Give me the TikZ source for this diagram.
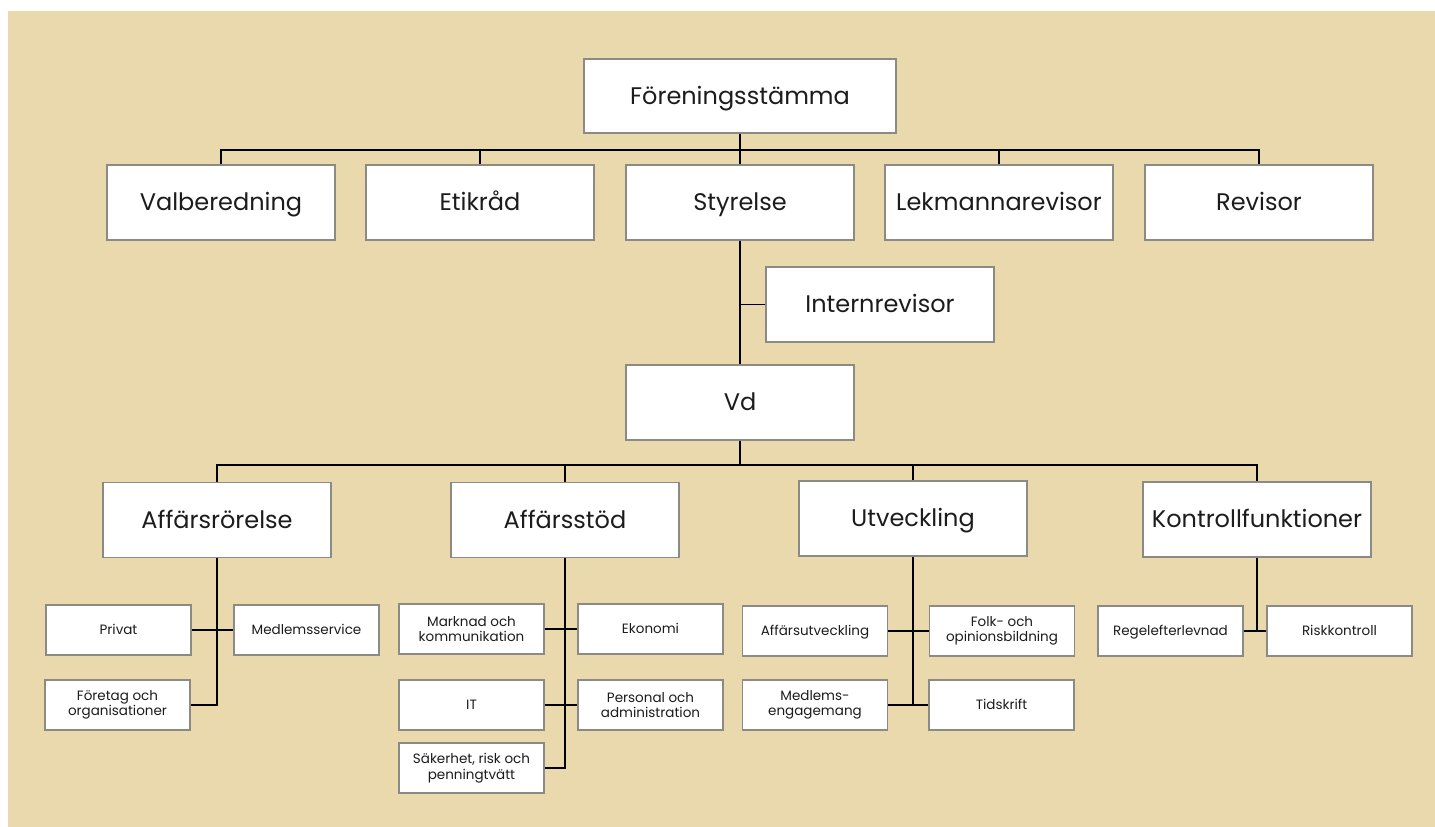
\documentclass[tikz,border=0pt]{standalone}
\usepackage{fontspec}
\setmainfont{Poppins}
\definecolor{bgbeige}{RGB}{233,217,173}
\definecolor{boxedge}{RGB}{140,138,132}
\definecolor{txt}{RGB}{28,28,28}
\begin{document}
\begin{tikzpicture}[x=1pt,y=-1pt,
  bigbox/.style={draw=boxedge,line width=1.4pt,fill=white,minimum width=228pt,minimum height=75pt,inner sep=0pt,text=txt,font=\fontsize{24}{28}\selectfont,text height=19pt,text depth=3pt},
  smallbox/.style={draw=boxedge,line width=1.4pt,fill=white,minimum width=145pt,minimum height=50pt,inner sep=0pt,text=txt,font=\fontsize{13.5}{15.5}\selectfont,text height=11pt,text depth=2pt},
  smallbox2/.style={draw=boxedge,line width=1.4pt,fill=white,minimum width=145pt,minimum height=50pt,inner sep=0pt,text=txt,font=\fontsize{13.5}{15.5}\selectfont,align=center},
  conn/.style={draw=black,line width=1.2pt}]
\useasboundingbox (0,0) rectangle (1435,827);
\fill[bgbeige] (8,11) rectangle (1435,827);
% level 1
\node[bigbox,minimum width=312pt,minimum height=74pt] (fs) at (740,96) {Föreningsstämma};
% level 2
\node[bigbox] (valb) at (221,202.5) {Valberedning};
\node[bigbox] (etik) at (480,202.5) {Etikråd};
\node[bigbox] (styr) at (740,202.5) {Styrelse};
\node[bigbox] (lekm) at (999,202.5) {Lekmannarevisor};
\node[bigbox] (rev) at (1259,202.5) {Revisor};
\coordinate (bus1) at (740,150);
% level 3
\node[bigbox] (intr) at (880,304.5) {Internrevisor};
\node[bigbox] (vd) at (740,402.5) {Vd};
\coordinate (bus2) at (740,465);
% level 4
\node[bigbox] (affr) at (217,520) {Affärsrörelse};
\node[bigbox] (affs) at (565,520) {Affärsstöd};
\node[bigbox] (utv) at (913,518.5) {Utveckling};
\node[bigbox] (kon) at (1257,519.5) {Kontrollfunktioner};
% Affärsrörelse children
\node[smallbox] (priv) at (118.5,630) {Privat};
\node[smallbox] (medl) at (306.5,630) {Medlemsservice};
\node[smallbox2] (ftg) at (117.5,705) {Företag och\\organisationer};
% Affärsstöd children
\node[smallbox2] (mark) at (471.5,629) {Marknad och\\kommunikation};
\node[smallbox] (ekon) at (650.5,629) {Ekonomi};
\node[smallbox] (it) at (471.5,705) {IT};
\node[smallbox2] (pers) at (650.5,705) {Personal och\\administration};
\node[smallbox2] (sak) at (471.5,768) {Säkerhet, risk och\\penningtvätt};
% Utveckling children
\node[smallbox] (affu) at (815,631) {Affärsutveckling};
\node[smallbox2] (folk) at (1002,631) {Folk- och\\opinionsbildning};
\node[smallbox2] (meng) at (815,705) {Medlems-\\engagemang};
\node[smallbox] (tids) at (1001.5,705) {Tidskrift};
% Kontrollfunktioner children
\node[smallbox] (regel) at (1170.5,631) {Regelefterlevnad};
\node[smallbox] (risk) at (1339.5,631) {Riskkontroll};
% connectors level 1-2
\draw[conn] (fs.south) -- (bus1);
\draw[conn] (valb.north) |- (rev.north |- bus1) -- (rev.north);
\draw[conn] (etik.north) -- (etik.north |- bus1);
\draw[conn] (styr.north) -- (bus1);
\draw[conn] (lekm.north) -- (lekm.north |- bus1);
% Styrelse - Vd
\draw[conn] (styr.south) -- (vd.north);
\draw[conn] (intr.west) -- (intr.west -| styr.south);
% Vd - level 4
\draw[conn] (vd.south) -- (bus2);
\draw[conn] (affr.north) |- (kon.north |- bus2) -- (kon.north);
\draw[conn] (affs.north) -- (affs.north |- bus2);
\draw[conn] (utv.north) -- (utv.north |- bus2);
% Affärsrörelse
\draw[conn] (affr.south) |- (ftg.east);
\draw[conn] (priv.east) -- (medl.west);
% Affärsstöd
\draw[conn] (affs.south) |- (sak.east);
\draw[conn] (mark.east) -- (ekon.west);
\draw[conn] (it.east) -- (pers.west);
% Utveckling
\draw[conn] (utv.south) -- (utv.south |- meng.east);
\draw[conn] (affu.east) -- (folk.west);
\draw[conn] (meng.east) -- (tids.west);
% Kontrollfunktioner
\draw[conn] (kon.south) -- (kon.south |- regel.east);
\draw[conn] (regel.east) -- (risk.west);
\end{tikzpicture}
\end{document}
